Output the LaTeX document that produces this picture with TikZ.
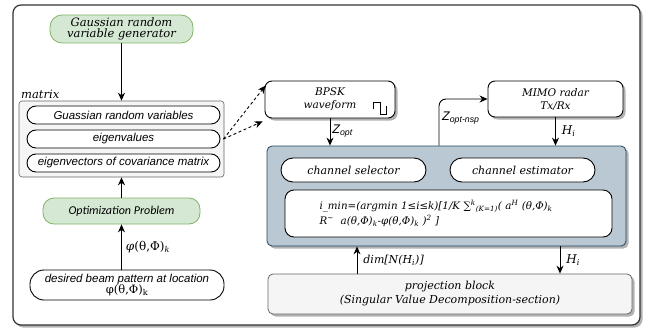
\documentclass[tikz,border=0pt]{standalone}
\usepackage{fontspec}
\setmainfont{DejaVu Serif}
\setsansfont{Liberation Sans}
\newfontfamily\carl{Carlito}
\usetikzlibrary{arrows.meta,shadows,calc}
\definecolor{gfill}{HTML}{D5E8D4}
\definecolor{gdraw}{HTML}{82B366}
\definecolor{bfill}{HTML}{BAC8D3}
\definecolor{bdraw}{HTML}{23445D}
\definecolor{lgfill}{HTML}{F5F5F5}
\definecolor{lgdraw}{HTML}{666666}
\definecolor{frame}{HTML}{333333}
\tikzset{
  sh/.style={drop shadow={shadow xshift=2.5pt,shadow yshift=-2.5pt,fill=black,opacity=0.3}},
  serif/.style={font=\fontsize{10.5}{13}\selectfont\itshape},
  sansit/.style={font=\sffamily\fontsize{11.5}{13}\selectfont\itshape},
  sanslbl/.style={font=\sffamily\fontsize{12.5}{13}\selectfont\itshape},
  seriflbl/.style={font=\fontsize{12}{13}\selectfont\itshape},
  greenbox/.style={draw=gdraw, fill=gfill, line width=0.8pt, rounded corners=12pt, align=center, inner sep=1pt},
  pill/.style={draw=black, fill=white, line width=0.9pt, rounded corners=9pt, align=center, inner sep=1pt},
  roundbox/.style={draw=black, fill=white, line width=0.9pt, rounded corners=7pt, align=center, inner sep=1pt},
  arr/.style={-{Stealth[length=8pt,width=7pt]}, line width=0.9pt, black},
  darr/.style={-{Stealth[length=8pt,width=7pt]}, line width=0.9pt, dashed, dash pattern=on 3pt off 2.5pt, black},
  lbl/.style={inner sep=1pt}
}
\begin{document}
\begin{tikzpicture}[x=1pt,y=-1pt]
\useasboundingbox (0,0) rectangle (647,329);
% outer frame
\draw[frame, line width=1.2pt, fill=white, rounded corners=8pt, sh] (13,5) rectangle (640,325);

% left column
\node[greenbox, minimum width=143pt, minimum height=28pt, font=\fontsize{11.5}{13}\selectfont\itshape] (gen) at (121.5,29) {Gaussian random\\[-2pt]variable generator};

\node[draw=lgdraw, fill=lgfill, line width=0.6pt, rounded corners=3pt, minimum width=205pt, minimum height=76pt, inner sep=0pt] (mat) at (121.5,139) {};
\node[anchor=south west, inner sep=0pt, font=\fontsize{11.5}{13}\selectfont\itshape] (matlbl) at (21,99) {matrix};

\node[pill, sansit, minimum width=193pt, minimum height=18pt] (gv) at (123.5,115) {Guassian random variables};
\node[pill, sansit, minimum width=193pt, minimum height=18pt] (ev) at (123.5,139) {eigenvalues};
\node[pill, sansit, minimum width=193pt, minimum height=18pt] (ec) at (123.5,163) {eigenvectors of covariance matrix};

\node[greenbox, rounded corners=11pt, minimum width=157pt, minimum height=26pt, font=\carl\fontsize{12}{13}\selectfont\itshape] (opt) at (121.5,211) {Optimization Problem};

\node[draw=black, fill=white, line width=0.9pt, rounded corners=14pt, minimum width=194pt, minimum height=30pt, inner sep=0pt, align=center] (des) at (127,285)
  {{\sffamily\fontsize{11.5}{12}\selectfont\itshape desired beam pattern at location}\\[-1pt]{\fontsize{11.5}{12}\selectfont φ(θ,Φ)\textsubscript{k}}};

\draw[arr] (gen.south) -- (mat.north);
\draw[arr] (opt.north) -- (mat.south);
\draw[arr] (des.north -| opt.south) -- node[lbl, right, font=\fontsize{12}{13}\selectfont, xshift=3pt] (phil) {\textit{φ}(θ,Φ)\textsubscript{\textit{k}}} (opt.south);

% BPSK
\node[roundbox, sh, serif, minimum width=130pt, minimum height=37pt] (bpsk) at (330,99.5) {BPSK\\waveform};
\draw[line width=0.8pt] ($(bpsk.south east)+(-22,-9)$) -- ++(0,-7) -- ++(7,0) -- ++(0,12) -- ++(6,0) -- ++(0,-8);

% MIMO
\node[roundbox, sh, serif, minimum width=135pt, minimum height=36pt] (mimo) at (555.5,99) {MIMO radar\\Tx/Rx};

% blue block
\node[draw=bdraw, fill=bfill, line width=0.8pt, rounded corners=5pt, sh, minimum width=359pt, minimum height=100pt, inner sep=0pt] (blue) at (446.5,196) {};
\node[pill, serif, font=\fontsize{11}{13}\selectfont\itshape, rounded corners=12pt, minimum width=145pt, minimum height=24pt] (csel) at (353.5,170) {channel selector};
\node[pill, serif, font=\fontsize{11}{13}\selectfont\itshape, rounded corners=12pt, minimum width=145pt, minimum height=24pt] (cest) at (522.5,170) {channel estimator};
\node[roundbox, rounded corners=9pt, minimum width=327pt, minimum height=47pt, text width=258pt, align=left, font=\fontsize{10.3}{15}\selectfont\itshape] (form) at (448.5,213.5)
  {i\_min=(argmin 1≤i≤k)[1/K ∑\textsuperscript{k}\textsubscript{(K=1)}( a\textsuperscript{H} (θ,Φ)\textsubscript{k}\\
   R\textsuperscript{\~{}} \ a(θ,Φ)\textsubscript{k}-φ(θ,Φ)\textsubscript{k} )\textsuperscript{2} ]};

% projection
\node[draw=lgdraw, fill=lgfill, line width=0.8pt, rounded corners=5pt, sh, minimum width=364pt, minimum height=40pt, font=\fontsize{11}{14}\selectfont\itshape, align=center] (proj) at (450,294) {projection block\\(Singular Value Decomposition-section)};

% connectors
\coordinate (d1) at ($(ev.east)+(3,0)$);
\draw[darr] (d1) -- ([xshift=1pt,yshift=-5pt]bpsk.north west);
\draw[darr] (d1) -- ([xshift=-2pt,yshift=-3pt]bpsk.south west);

\draw[arr] (bpsk.south) -- node[lbl, right, sanslbl, xshift=1pt, yshift=1pt] (zo) {Z\textsubscript{opt}} (bpsk.south |- blue.north);
\draw[arr] (mimo.south) -- node[lbl, right, seriflbl, xshift=5pt] (h1) {H\textsubscript{i}} (mimo.south |- blue.north);

\coordinate (nspx) at (439,0);
\draw[arr, rounded corners=7pt] (blue.north -| nspx) |- (mimo.west);
\node[lbl, sanslbl, anchor=west] (nspl) at (441,118) {Z\textsubscript{opt-nsp}};

\coordinate (dimx) at (357,0);
\coordinate (hx) at (560,0);
\draw[arr] (proj.north -| dimx) -- node[lbl, right, font=\fontsize{11}{13}\selectfont\itshape, xshift=5pt] (diml) {dim[N(H\textsubscript{i})]} (blue.south -| dimx);
\draw[arr] (blue.south -| hx) -- node[lbl, right, seriflbl, xshift=5pt] (h2) {H\textsubscript{i}} (proj.north -| hx);
\end{tikzpicture}
\end{document}
